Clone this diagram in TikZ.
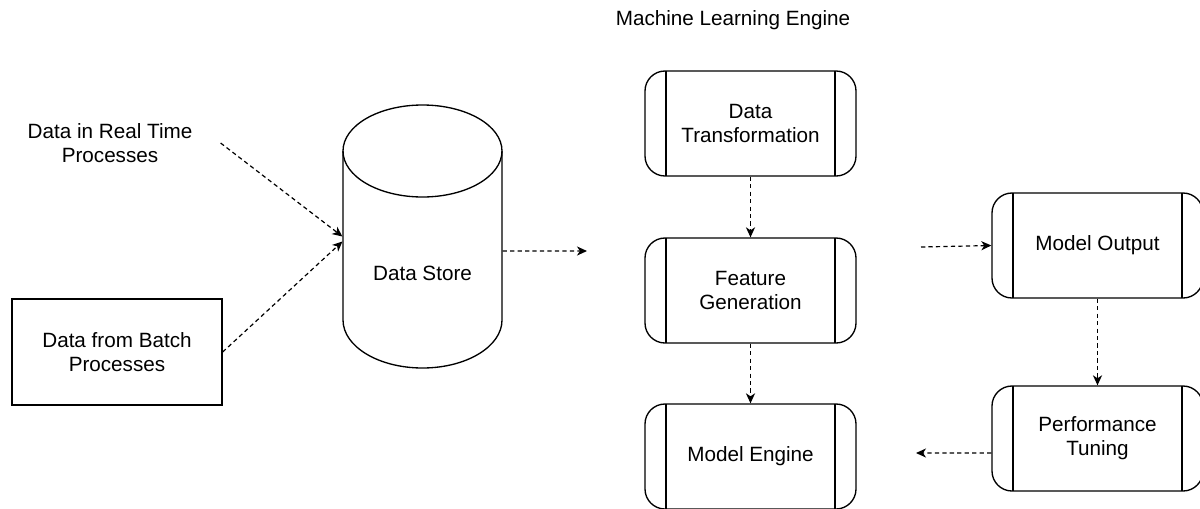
\documentclass[tikz,border=0pt]{standalone}
\usepackage{fontspec}
\setmainfont{Liberation Sans}
\usepackage{tikz}
\usetikzlibrary{
    arrows.meta
}

\begin{document}
\begin{tikzpicture}[x=0.75pt,y=-0.75pt,->,>={Stealth[length=7.5pt,width=6.8pt,inset=2.2pt]},line width=0.9pt,font=\fontsize{15.5}{18}\selectfont]
    \tikzstyle{flow}=[dash pattern=on 3.2pt off 2.4pt]
    \tikzstyle{plain}=[draw, line width=1pt, align=center, minimum width=157.5pt, minimum height=79.5pt]
    \tikzstyle{store}=[inner sep=0pt, minimum width=119.25pt, minimum height=197.25pt]
    \tikzstyle{process}=[draw, line width=1pt, rounded corners=15pt, align=center, minimum width=158.25pt, minimum height=78.75pt,
        path picture={
            \draw[-, line width=1pt] ([xshift=15.75pt]path picture bounding box.north west) -- ([xshift=15.75pt]path picture bounding box.south west);
            \draw[-, line width=1pt] ([xshift=-15.75pt]path picture bounding box.north east) -- ([xshift=-15.75pt]path picture bounding box.south east);
        }]

    \useasboundingbox (0,0) rectangle (1200,508);

    \node (T) at (733, 20) {Machine Learning Engine};
    \node[align=center, minimum width=165pt] (RT) at (110, 143) {Data in Real Time\\Processes};
    \node[plain] (B) at (117, 352) {Data from Batch\\Processes};

    % data store cylinder
    \node[store] (DS) at (422.5, 236.5) {};
    \draw[-, line width=1pt] (343, 151) -- (343, 320) arc[start angle=180, end angle=360, x radius=59.625pt, y radius=36pt] -- (502, 151);
    \draw[-, line width=1pt] (422.5, 151) ellipse [x radius=59.625pt, y radius=34.5pt];
    \node (DSL) at (422.5, 273) {Data Store};

    \node[process] (DT) at (750.5, 123.5) {Data\\Transformation};
    \node[process] (FG) at (750.5, 290.5) {Feature\\Generation};
    \node[process] (ME) at (750.5, 456.5) {Model Engine};
    \node[process] (MO) at (1097.5, 245.5) {Model Output};
    \node[process] (PT) at (1097.5, 438.5) {Performance\\Tuning};
    \coordinate (DSout) at (587, 251);
    \coordinate (MOin) at (921, 247);
    \coordinate (PTout) at (916, 453);

    \path (RT.east) edge[flow] (DS.west);
    \path (B.east) edge[flow] ([yshift=-3.75pt]DS.west);
    \path ([yshift=-10.9pt]DS.east) edge[flow] (DSout);
    \path (DT.south) edge[flow] (FG.north);
    \path (FG.south) edge[flow] (ME.north);
    \path (MOin) edge[flow] (MO.west);
    \path (MO.south) edge[flow] (PT.north);
    \path ([yshift=-10.9pt]PT.west) edge[flow] (PTout);
\end{tikzpicture}
\end{document}
